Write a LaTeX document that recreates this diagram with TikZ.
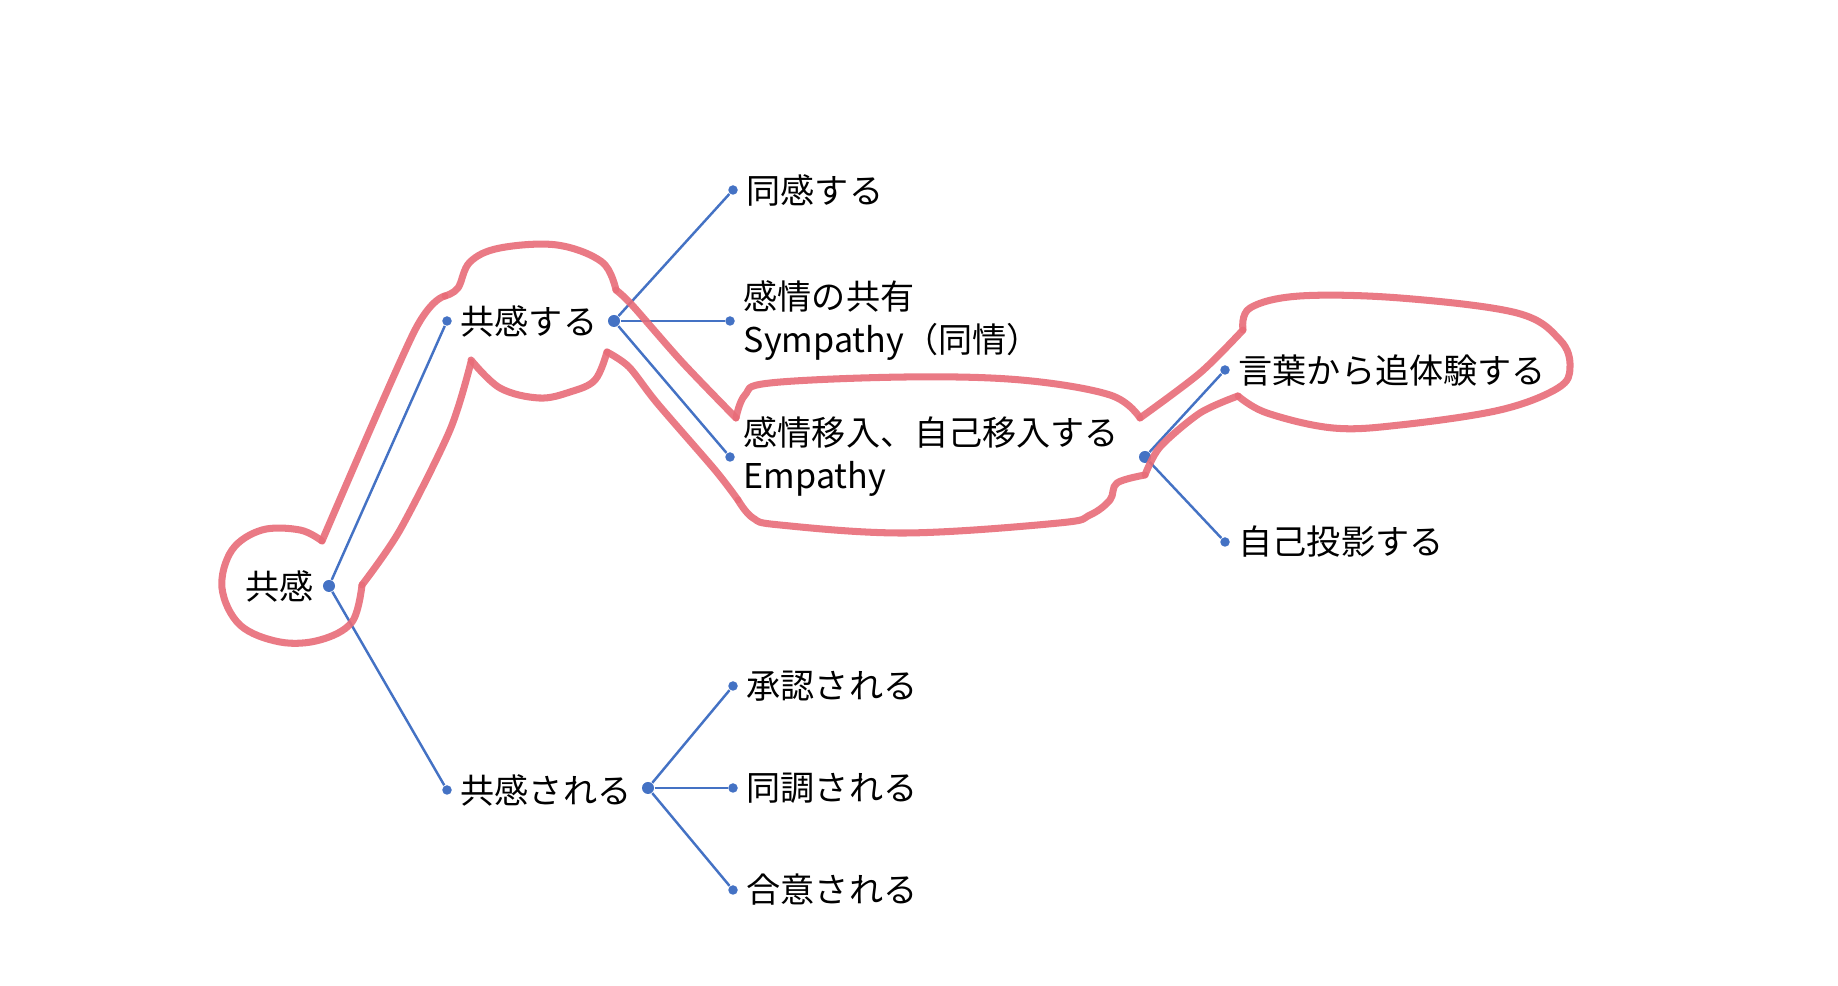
\documentclass[tikz,border=0pt]{standalone}
\usepackage{fontspec}
\setmainfont{Noto Sans CJK JP}
\usepackage{tikz}
\definecolor{mapblue}{RGB}{68,114,196}
\definecolor{penred}{RGB}{232,108,120}

\begin{document}
\begin{tikzpicture}[x=0.01cm, y=-0.01cm, font=\fontsize{9.7}{12.2}\selectfont,
  dot/.style={circle, fill=mapblue, inner sep=0pt, minimum size=0.095cm},
  hub/.style={dot, minimum size=0.12cm},
  lbl/.style={anchor=west, inner sep=0pt, align=left, xshift=0.13cm},
  link/.style={mapblue, line width=0.7pt},
  pen/.style={penred, line width=2pt, line cap=round, line join=round, opacity=0.9}]
  \useasboundingbox (0,0) rectangle (1838,986);
  % mind map
  \node[hub] (root) at (329,586) {}; \node[anchor=east, inner sep=0pt] (rootT) at (314,586) {共感};
  \node[dot] (suruIn) at (447,321) {}; \node[lbl] (suruT) at (suruIn) {共感する};
  \node[hub] (suruOut) at (614,321) {};
  \node[dot] (sareIn) at (447,790) {}; \node[lbl] (sareT) at (sareIn) {共感される};
  \node[hub] (sareOut) at (648,788) {};
  \node[dot] (doukan) at (733,190) {}; \node[lbl] (doukanT) at (doukan) {同感する};
  \node[dot] (kyouyu) at (730,321) {}; \node[lbl] (kyouyuT) at (kyouyu) {感情の共有\\Sympathy（同情）};
  \node[dot] (inyu) at (730,457) {}; \node[lbl] (inyuT) at (inyu) {感情移入、自己移入する\\Empathy};
  \node[hub] (inyuOut) at (1145,457) {};
  \node[dot] (kotoba) at (1225,370) {}; \node[lbl] (kotobaT) at (kotoba) {言葉から追体験する};
  \node[dot] (touei) at (1225,542) {}; \node[lbl] (toueiT) at (touei) {自己投影する};
  \node[dot] (shounin) at (733,686) {}; \node[lbl] (shouninT) at (shounin) {承認される};
  \node[dot] (douchou) at (733,788) {}; \node[lbl] (douchouT) at (douchou) {同調される};
  \node[dot] (goui) at (733,890) {}; \node[lbl] (gouiT) at (goui) {合意される};
  \draw[link] (root) -- (suruIn); \draw[link] (root) -- (sareIn);
  \draw[link] (suruOut) -- (doukan); \draw[link] (suruOut) -- (kyouyu); \draw[link] (suruOut) -- (inyu);
  \draw[link] (inyuOut) -- (kotoba); \draw[link] (inyuOut) -- (touei);
  \draw[link] (sareOut) -- (shounin); \draw[link] (sareOut) -- (douchou); \draw[link] (sareOut) -- (goui);
  % hand-drawn outline
  \draw[pen] plot[smooth, tension=.5] coordinates {(471,362) (450,430) (400,530) (362,585)};
  \draw[pen] plot[smooth, tension=.6] coordinates {(362,585) (352,622) (320,640) (280,642) (240,625) (222,588) (232,550) (262,530) (300,530) (322,541)};
  \draw[pen] plot[smooth, tension=.5] coordinates {(322,541) (414,332) (445,296)};
  \draw[pen] plot[smooth, tension=.6] coordinates {(445,296) (458,288) (470,262) (500,248) (557,245) (602,262) (616,290)};
  \draw[pen] plot[smooth, tension=.5] coordinates {(616,290) (632,305) (682,362) (736,418)};
  \draw[pen] plot[smooth, tension=.6] coordinates {(736,418) (745,395) (770,383) (906,377) (1021,380) (1110,395) (1140,418)};
  \draw[pen] plot[smooth, tension=.5] coordinates {(1140,418) (1200,373) (1243,330)};
  \draw[pen] plot[smooth, tension=.6] coordinates {(1243,330) (1250,308) (1300,296) (1400,298) (1517,313) (1560,340) (1570,367) (1558,388) (1500,410) (1400,425) (1333,428) (1267,413) (1238,396)};
  \draw[pen] plot[smooth, tension=.5] coordinates {(1238,396) (1200,413) (1160,447) (1145,475)};
  \draw[pen] plot[smooth, tension=.6] coordinates {(1145,475) (1117,483) (1110,500) (1090,515) (1059,523) (906,533) (780,525) (753,518) (738,500)};
  \draw[pen] plot[smooth, tension=.5] coordinates {(738,500) (715,470) (657,403) (629,367) (607,352)};
  \draw[pen] plot[smooth, tension=.6] coordinates {(607,352) (595,380) (570,392) (539,398) (500,388) (471,360)};
\end{tikzpicture}
\end{document}
